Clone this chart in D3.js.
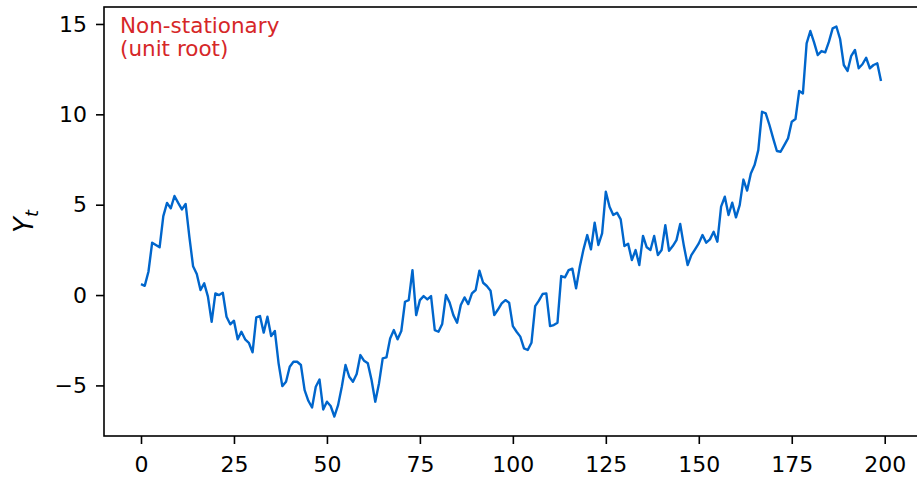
<!DOCTYPE html>
<html><head><meta charset="utf-8">
<script src="https://cdn.jsdelivr.net/npm/d3@7"></script>
<style>body{margin:0;background:#fff}svg{display:block}</style>
</head><body>
<script>
const values = [0.6,0.51,1.29,2.9,2.77,2.64,4.37,5.1,4.8,5.48,5.1,4.74,5.04,3.23,1.6,1.16,0.28,0.65,-0.09,-1.48,
0.09,0.0,0.13,-1.2,-1.62,-1.42,-2.45,-2.03,-2.45,-2.64,-3.17,-1.24,-1.16,-2.08,-1.2,-2.27,-1.99,-3.78,-5.04,-4.8,
-3.97,-3.69,-3.69,-3.87,-5.26,-5.85,-6.22,-5.07,-4.67,-6.33,-5.9,-6.14,-6.72,-6.09,-5.07,-3.87,-4.52,-4.8,-4.37,-3.32,
-3.64,-3.78,-4.7,-5.9,-4.89,-3.5,-3.45,-2.4,-1.94,-2.45,-1.99,-0.37,-0.28,1.38,-1.11,-0.28,-0.06,-0.24,-0.06,-1.94,
-2.03,-1.6,0.0,-0.42,-1.11,-1.53,-0.55,-0.13,-0.5,0.09,0.28,1.35,0.68,0.5,0.24,-1.11,-0.8,-0.46,-0.28,-0.42,
-1.72,-2.03,-2.3,-2.95,-3.04,-2.64,-0.61,-0.31,0.06,0.09,-1.72,-1.66,-1.53,1.05,0.98,1.38,1.46,0.37,1.57,2.53,
3.32,2.53,4.0,2.77,3.41,5.72,4.89,4.43,4.56,4.19,2.71,2.84,1.94,2.49,1.66,3.27,2.64,2.49,3.27,2.21,
2.49,3.87,2.45,2.71,3.04,3.93,2.71,1.66,2.21,2.53,2.86,3.32,2.9,3.08,3.5,2.95,4.89,5.44,4.43,5.11,
4.3,4.98,6.39,5.78,6.73,7.19,8.02,10.14,10.05,9.41,8.67,7.97,7.93,8.3,8.67,9.59,9.74,11.29,11.16,13.93,
14.61,13.98,13.28,13.5,13.43,14.02,14.76,14.86,14.17,12.73,12.4,13.24,13.56,12.55,12.77,13.13,12.55,12.73,12.82,11.84];
const xTicks = [0,25,50,75,100,125,150,175,200];
const yTicks = [-5,0,5,10,15];
const yLabel = "Y";
const yLabelSub = "t";
const annotation = ["Non-stationary", "(unit root)"];

const W = 917, H = 478;
const m = {left:104, right:-1, top:7, bottom:42};
const svg = d3.select("body").append("svg").attr("width",W).attr("height",H)
  .style("font-family","'DejaVu Sans', sans-serif");
const n = values.length;
const xPad = (n-1)*0.05;
const yMin = d3.min(values), yMax = d3.max(values), yPad = (yMax-yMin)*0.05;
const x = d3.scaleLinear().domain([-xPad, n-1+xPad]).range([m.left, W-m.right]);
const y = d3.scaleLinear().domain([yMin-yPad, yMax+yPad]).range([H-m.bottom, m.top]);

const line = d3.line().x((d,i)=>x(i)).y(d=>y(d));
svg.append("path").datum(values).attr("d",line).attr("fill","none")
  .attr("stroke","#0066cc").attr("stroke-width",2.4).attr("stroke-linejoin","round");

svg.append("rect").attr("x",m.left).attr("y",m.top).attr("width",W-m.right-m.left).attr("height",H-m.bottom-m.top)
  .attr("fill","none").attr("stroke","#000").attr("stroke-width",1.6);

const xAxis = svg.append("g").attr("transform",`translate(0,${H-m.bottom})`)
  .call(d3.axisBottom(x).tickValues(xTicks).tickSize(8).tickPadding(12).tickFormat(d3.format("d")));
const yAxis = svg.append("g").attr("transform",`translate(${m.left},0)`)
  .call(d3.axisLeft(y).tickValues(yTicks).tickSize(8).tickPadding(9).tickFormat(d=> d<0 ? "\u2212"+Math.abs(d) : d));
[xAxis,yAxis].forEach(g=>{
  g.select(".domain").remove();
  g.selectAll("line").attr("stroke","#000").attr("stroke-width",1.6);
  g.selectAll("text").attr("fill","#000").style("font-size","22px").style("font-family","'DejaVu Sans', sans-serif");
});

const yl = svg.append("text").attr("transform",`translate(33,${(m.top+H-m.bottom)/2}) rotate(-90)`)
  .attr("text-anchor","middle").style("font-size","26px").style("font-style","italic").attr("fill","#000");
yl.append("tspan").text(yLabel);
yl.append("tspan").attr("dy",5).style("font-size","18px").text(yLabelSub);

const ann = svg.append("text").attr("x",120).attr("y",33).attr("fill","#d62728").style("font-size","21.5px");
annotation.forEach((t,i)=>ann.append("tspan").attr("x",120).attr("dy",i?23:0).text(t));
</script>
</body></html>
